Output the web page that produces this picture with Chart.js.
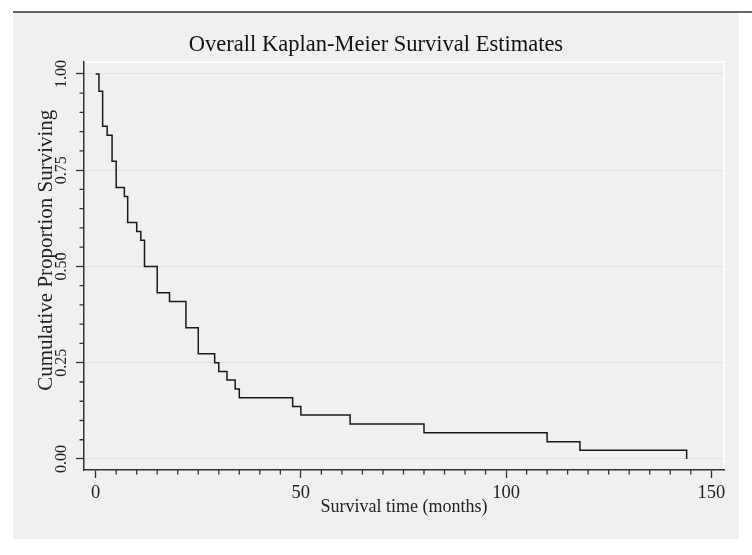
<!DOCTYPE html>
<html>
<head>
<meta charset="utf-8">
<script src="https://cdn.jsdelivr.net/npm/chart.js@4.4.1/dist/chart.umd.min.js"></script>
<style>
    html, body { margin: 0; padding: 0; background: #ffffff; }
    #wrap { width: 752px; height: 555px; }
</style>
</head>
<body>
<div id="wrap"><canvas id="kmChart" width="752" height="555"></canvas></div>
<script>
// data
const survTime = [0, 0.8, 1.7, 2.8, 4, 5, 7, 7.8, 10, 11, 11.9, 15, 18, 22, 25, 29, 30, 32, 34, 35, 48, 50, 62, 80, 110, 118, 144];
const survProb = [1.000, 0.955, 0.864, 0.841, 0.773, 0.705, 0.682, 0.614, 0.591, 0.568, 0.500, 0.432, 0.409, 0.341, 0.273, 0.250, 0.227, 0.205, 0.182, 0.159, 0.136, 0.114, 0.091, 0.068, 0.045, 0.023, 0.000];

const xMajorTicks = [0, 50, 100, 150];
const xMinorTicks = [5, 10, 15, 20, 25, 30, 35, 40, 45, 55, 60, 65, 70, 75, 80, 85, 90, 95, 105, 110, 115, 120, 125, 130, 135, 140, 145];
const yMajorTicks = [0, 0.25, 0.5, 0.75, 1];
const yMinorTicks = [0.05, 0.1, 0.15, 0.2, 0.3, 0.35, 0.4, 0.45, 0.55, 0.6, 0.65, 0.7, 0.8, 0.85, 0.9, 0.95];

const SERIF = "'Liberation Serif', 'Times New Roman', serif";
const AXIS_COLOR = "#333333";

// background box, frame, minor ticks
const stataFrame = {
    id: "stataFrame",
    beforeDraw(chart) {
        const ctx = chart.ctx;
        ctx.save();
        ctx.fillStyle = "#f0f0f0";
        ctx.fillRect(13, 12, 726, 527);
        ctx.strokeStyle = "#333333";
        ctx.lineWidth = 1.5;
        ctx.beginPath();
        ctx.moveTo(13, 12);
        ctx.lineTo(752, 12);
        ctx.stroke();
        ctx.restore();
    },
    afterDraw(chart) {
        const ctx = chart.ctx;
        const area = chart.chartArea;
        const xs = chart.scales.x;
        const ys = chart.scales.y;
        ctx.save();
        // white edge top and right of the plot region
        ctx.strokeStyle = "#ffffff";
        ctx.lineWidth = 1.5;
        ctx.beginPath();
        ctx.moveTo(area.left + 1, area.top);
        ctx.lineTo(area.right, area.top);
        ctx.lineTo(area.right, area.bottom - 1);
        ctx.stroke();
        // minor ticks
        ctx.strokeStyle = AXIS_COLOR;
        ctx.lineWidth = 1.3;
        ctx.beginPath();
        xMinorTicks.forEach(v => {
            const px = xs.getPixelForValue(v);
            ctx.moveTo(px, area.bottom);
            ctx.lineTo(px, area.bottom + 4.5);
        });
        yMinorTicks.forEach(v => {
            const py = ys.getPixelForValue(v);
            ctx.moveTo(area.left, py);
            ctx.lineTo(area.left - 4.5, py);
        });
        ctx.stroke();
        ctx.restore();
    }
};

const ctx = document.getElementById("kmChart");

new Chart(ctx, {
    type: "line",
    data: {
        datasets: [{
            label: "Survival",
            data: survTime.map((t, i) => ({ x: t, y: survProb[i] })),
            stepped: "before",
            borderColor: "#1a1a1a",
            borderWidth: 1.5,
            pointRadius: 0,
            fill: false
        }]
    },
    options: {
        responsive: false,
        animation: false,
        layout: {
            padding: { left: 28, right: 28, top: 0, bottom: 0 }
        },
        plugins: {
            legend: { display: false },
            tooltip: { enabled: false },
            title: {
                display: true,
                text: "Overall Kaplan-Meier Survival Estimates",
                color: "#111111",
                font: { family: SERIF, size: 22.5, weight: "normal" },
                padding: { top: 31.2, bottom: 3.8 }
            }
        },
        scales: {
            x: {
                type: "linear",
                min: -2.84,
                max: 153.1,
                afterFit: (scale) => { scale.height = 85; },
                afterBuildTicks: (scale) => {
                    scale.ticks = xMajorTicks.map(v => ({ value: v }));
                },
                border: { display: true, color: AXIS_COLOR, width: 1.5 },
                grid: {
                    drawOnChartArea: false,
                    drawTicks: true,
                    tickLength: 8,
                    tickColor: AXIS_COLOR,
                    tickWidth: 1.3
                },
                ticks: {
                    color: "#222222",
                    padding: 4,
                    maxRotation: 0,
                    font: { family: SERIF, size: 18.5 },
                    callback: (v) => String(v)
                },
                title: {
                    display: true,
                    text: "Survival time (months)",
                    color: "#222222",
                    font: { family: SERIF, size: 18 },
                    padding: { top: 0, bottom: 37.3 }
                }
            },
            y: {
                type: "linear",
                min: -0.0286,
                max: 1.031,
                afterFit: (scale) => { scale.width = 56; },
                afterBuildTicks: (scale) => {
                    scale.ticks = yMajorTicks.map(v => ({ value: v }));
                },
                border: { display: true, color: AXIS_COLOR, width: 1.5 },
                grid: {
                    drawOnChartArea: true,
                    color: "#e2e2e2",
                    lineWidth: 1,
                    drawTicks: true,
                    tickLength: 8,
                    tickColor: AXIS_COLOR,
                    tickWidth: 1.3
                },
                ticks: {
                    color: "#222222",
                    padding: 0,
                    minRotation: 90,
                    maxRotation: 90,
                    crossAlign: "center",
                    font: { family: SERIF, size: 16 },
                    callback: (v) => Number(v).toFixed(2)
                },
                title: {
                    display: true,
                    // leading spaces push the visible text up a little, as in the original
                    text: "      Cumulative Proportion Surviving",
                    color: "#222222",
                    font: { family: SERIF, size: 21 },
                    padding: { top: 5.4, bottom: 0 }
                }
            }
        }
    },
    plugins: [stataFrame]
});
</script>
</body>
</html>
